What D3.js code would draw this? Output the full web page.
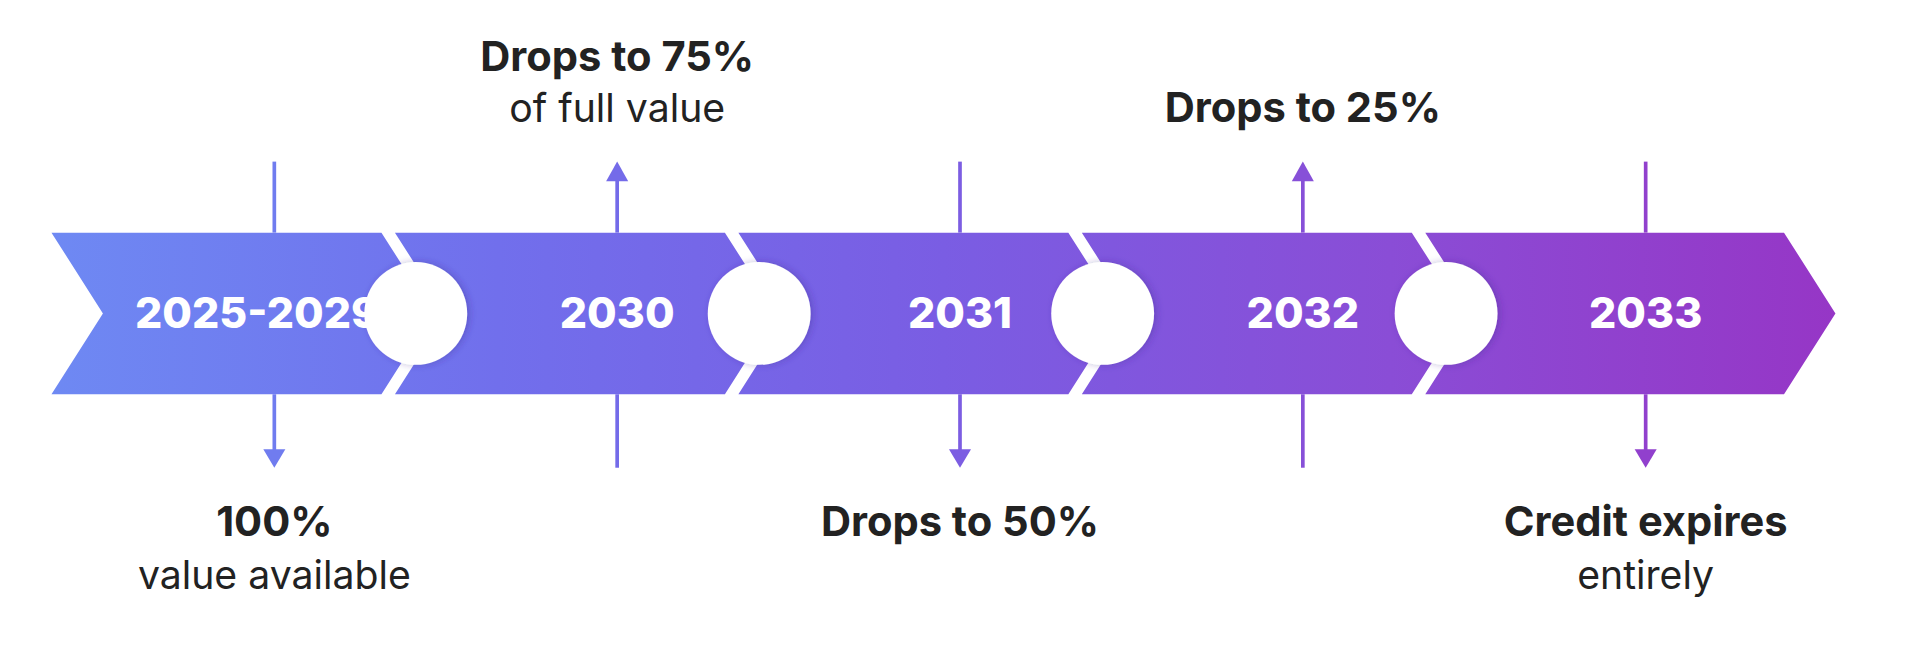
<!DOCTYPE html><html><head><meta charset="utf-8">
<script src="https://cdn.jsdelivr.net/npm/d3@7"></script>
<style>body{margin:0;background:#fff}</style></head><body>
<script>
const periods = ["2025-2029","2030","2031","2032","2033"];
const colors = ["#6E89F3","#716FEC","#7A5DE3","#8A4DD6","#9636C6"];
const sides = ["bottom","top","bottom","top","bottom"];
const titles = ["100%","Drops to 75%","Drops to 50%","Drops to 25%","Credit expires"];
const subtitles = ["value available","of full value","","","entirely"];

(function(){
const W=1568,H=527.6;
const svg=d3.select("body").append("svg").attr("width",1920).attr("height",646).attr("viewBox",`0 0 ${W} ${H}`);
const defs=svg.append("defs");
const g=defs.append("linearGradient").attr("id","gr").attr("gradientUnits","userSpaceOnUse").attr("x1",42).attr("x2",1500).attr("y1",0).attr("y2",0);
colors.forEach((c,i)=>g.append("stop").attr("offset",i/(colors.length-1)).attr("stop-color",c));
const f=defs.append("filter").attr("id","sh").attr("x","-30%").attr("y","-30%").attr("width","160%").attr("height","160%");
f.append("feDropShadow").attr("dx",2).attr("dy",0).attr("stdDeviation",3).attr("flood-color","#3a2a90").attr("flood-opacity",0.35);

const x=d3.scaleLinear().domain([0,periods.length]).range([42,42+280.5*5]);
const yT=190,yB=322,mid=256,d=42,gap=11;
const starts=periods.map((p,i)=>x(i));
periods.forEach((p,i)=>{
  const s=starts[i], e=i<4?x(i+1)-gap:1457;
  const path=d3.path();
  path.moveTo(s,yT);path.lineTo(e,yT);path.lineTo(e+d,mid);path.lineTo(e,yB);path.lineTo(s,yB);
  path.lineTo(s+d,mid);path.closePath();
  svg.append("path").attr("d",path.toString()).attr("fill","url(#gr)");
});
starts.slice(1).forEach(s=>{
  svg.append("circle").attr("cx",s+17).attr("cy",mid).attr("r",42).attr("fill","#fff").attr("filter","url(#sh)");
});
const cx=i=>224+i*280;
const font="Inter, 'Noto Sans', sans-serif";
periods.forEach((p,i)=>{
  const c=cx(i);
  svg.append("text").attr("x",i==0?210:c).attr("y",mid+12).attr("text-anchor","middle")
    .attr("font-family",font).attr("font-weight",800).attr("font-size",35).attr("fill","#fff").text(p);
  const col=d3.interpolateRgbBasis(colors)(Math.max(0,Math.min(1,(c-42)/1458)));
  svg.append("line").attr("x1",c).attr("x2",c).attr("y1",sides[i]=="top"?140:132).attr("y2",yT).attr("stroke",col).attr("stroke-width",3);
  svg.append("line").attr("x1",c).attr("x2",c).attr("y1",yB).attr("y2",sides[i]=="bottom"?374:382).attr("stroke",col).attr("stroke-width",3);
  if(sides[i]=="top"){
    svg.append("path").attr("d",`M${c-9},${148}L${c},${132}L${c+9},${148}Z`).attr("fill",col);
    svg.append("text").attr("x",c).attr("y",subtitles[i]?58:100).attr("text-anchor","middle").attr("font-family",font).attr("font-weight",700).attr("font-size",34).attr("fill","#222").text(titles[i]);
    if(subtitles[i]) svg.append("text").attr("x",c).attr("y",100).attr("text-anchor","middle").attr("font-family",font).attr("font-size",32).attr("fill","#222").text(subtitles[i]);
  } else {
    svg.append("path").attr("d",`M${c-9},${367}L${c},${382}L${c+9},${367}Z`).attr("fill",col);
    svg.append("text").attr("x",c).attr("y",438).attr("text-anchor","middle").attr("font-family",font).attr("font-weight",700).attr("font-size",34).attr("fill","#222").text(titles[i]);
    if(subtitles[i]) svg.append("text").attr("x",c).attr("y",481).attr("text-anchor","middle").attr("font-family",font).attr("font-size",32).attr("fill","#222").text(subtitles[i]);
  }
});
})();
</script></body></html>
